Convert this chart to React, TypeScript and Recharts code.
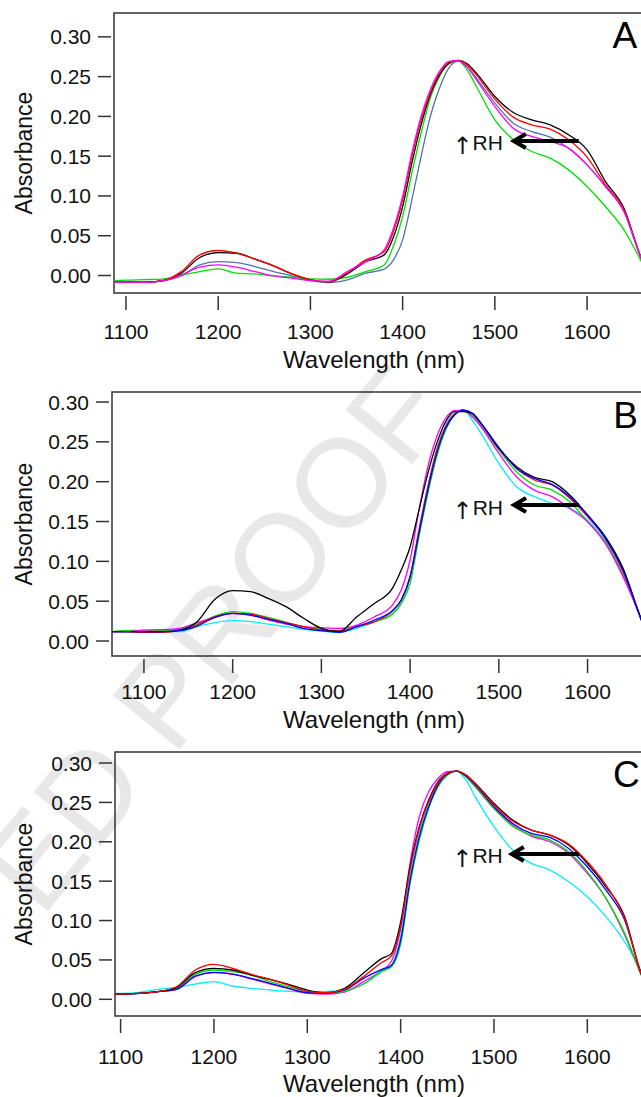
import {
  LineChart,
  Line,
  XAxis,
  YAxis,
  ReferenceArea,
  ReferenceLine,
  ReferenceDot,
  Label,
} from "recharts";

// ---- data ----
const wavelengthA = [1087, 1100, 1120, 1140, 1160, 1180, 1200, 1220, 1240, 1260, 1280, 1300, 1320, 1340, 1360, 1380, 1390, 1400, 1410, 1420, 1430, 1440, 1450, 1460, 1470, 1480, 1500, 1520, 1540, 1560, 1580, 1600, 1620, 1640, 1658, 1665];
const aBlack = [-0.0085, -0.0085, -0.0085, -0.0064, 0.0029, 0.0226, 0.0288, 0.028, 0.0205, 0.0121, 0.002, -0.0055, -0.008, 0.002, 0.0175, 0.0259, 0.048, 0.0867, 0.1412, 0.1894, 0.2272, 0.2523, 0.2662, 0.2704, 0.2662, 0.2544, 0.2251, 0.2049, 0.1957, 0.1894, 0.1769, 0.158, 0.1181, 0.0846, 0.024, 0.006];
const aRed = [-0.0085, -0.0085, -0.0085, -0.0064, 0.0049, 0.0259, 0.0314, 0.028, 0.0205, 0.0121, 0.002, -0.0055, -0.008, 0.0037, 0.0196, 0.0301, 0.055, 0.0951, 0.1496, 0.1957, 0.2301, 0.2544, 0.2678, 0.2704, 0.2649, 0.2523, 0.2217, 0.1991, 0.1894, 0.184, 0.1706, 0.1489, 0.114, 0.0825, 0.024, 0.006];
const aBlue = [-0.0085, -0.0085, -0.0085, -0.0066, -0.0005, 0.0133, 0.0175, 0.0163, 0.0112, 0.0049, -0.0005, -0.0064, -0.0089, -0.0055, 0.0029, 0.0079, 0.0196, 0.0448, 0.0951, 0.1496, 0.1999, 0.2356, 0.2607, 0.2695, 0.2628, 0.2481, 0.2167, 0.1915, 0.181, 0.1739, 0.1601, 0.1391, 0.1119, 0.0804, 0.024, 0.006];
const aMagenta = [-0.0085, -0.0085, -0.0085, -0.0068, 0.0008, 0.0104, 0.0133, 0.0104, 0.0049, -0.0005, -0.0034, -0.0064, -0.0072, 0.0049, 0.0175, 0.0322, 0.059, 0.0993, 0.1538, 0.1999, 0.2335, 0.2565, 0.2691, 0.27, 0.262, 0.246, 0.2125, 0.1852, 0.1748, 0.1685, 0.1601, 0.1391, 0.1119, 0.0804, 0.024, 0.006];
const aGreen = [-0.0065, -0.0058, -0.0052, -0.0045, 0.0005, 0.0049, 0.0083, 0.0029, 0.002, -0.0005, -0.0022, -0.0043, -0.0047, -0.0022, 0.0049, 0.0133, 0.037, 0.0741, 0.1286, 0.179, 0.223, 0.2502, 0.267, 0.27, 0.2586, 0.2376, 0.1957, 0.1706, 0.1559, 0.1475, 0.1328, 0.1119, 0.0867, 0.0574, 0.0196, 0.004];

const wavelengthB = [1064, 1080, 1100, 1120, 1140, 1160, 1180, 1200, 1220, 1240, 1260, 1280, 1300, 1320, 1340, 1360, 1380, 1390, 1400, 1410, 1420, 1430, 1440, 1450, 1460, 1470, 1480, 1500, 1520, 1540, 1560, 1580, 1600, 1620, 1640, 1660, 1667];
const bBlack = [0.0117, 0.0117, 0.0117, 0.0117, 0.0138, 0.0243, 0.0523, 0.0632, 0.0619, 0.0536, 0.0431, 0.0285, 0.0159, 0.0117, 0.0305, 0.0473, 0.066, 0.0891, 0.1184, 0.1644, 0.2105, 0.2481, 0.2753, 0.2879, 0.2879, 0.2858, 0.2732, 0.2418, 0.2188, 0.2054, 0.2, 0.1833, 0.1582, 0.131, 0.0912, 0.0285, 0.008];
const bRed = [0.0117, 0.0117, 0.0109, 0.0109, 0.013, 0.0201, 0.0305, 0.0347, 0.0339, 0.0285, 0.023, 0.018, 0.0138, 0.0126, 0.018, 0.0243, 0.0375, 0.0515, 0.0807, 0.1393, 0.1937, 0.2397, 0.269, 0.2849, 0.2899, 0.2858, 0.2732, 0.2418, 0.2167, 0.2021, 0.1958, 0.1791, 0.1561, 0.1289, 0.087, 0.0285, 0.008];
const bBlue = [0.0117, 0.0117, 0.0117, 0.0117, 0.013, 0.0188, 0.0297, 0.0347, 0.0326, 0.0272, 0.0222, 0.0159, 0.013, 0.0109, 0.018, 0.0264, 0.038, 0.0515, 0.0807, 0.1351, 0.1895, 0.2356, 0.2669, 0.2837, 0.2899, 0.2858, 0.2732, 0.2431, 0.2167, 0.2042, 0.1966, 0.1812, 0.1582, 0.1289, 0.0891, 0.0285, 0.008];
const bGreen = [0.0117, 0.0134, 0.0134, 0.0134, 0.0146, 0.0213, 0.0314, 0.0368, 0.0347, 0.0297, 0.0238, 0.018, 0.0146, 0.013, 0.0188, 0.0243, 0.034, 0.0473, 0.0724, 0.131, 0.1853, 0.2314, 0.2648, 0.2837, 0.2899, 0.2837, 0.2711, 0.2397, 0.2125, 0.1958, 0.1895, 0.1749, 0.1498, 0.1247, 0.0828, 0.0285, 0.008];
const bMagenta = [0.0117, 0.0117, 0.0138, 0.0142, 0.0159, 0.023, 0.0297, 0.0347, 0.0326, 0.0264, 0.0213, 0.018, 0.0167, 0.0159, 0.0201, 0.0305, 0.045, 0.064, 0.1017, 0.1644, 0.2188, 0.2565, 0.2795, 0.2891, 0.2899, 0.2816, 0.269, 0.2356, 0.2063, 0.1895, 0.1812, 0.1665, 0.1498, 0.1226, 0.0807, 0.0285, 0.008];
const bCyan = [0.0117, 0.0117, 0.0117, 0.0117, 0.0117, 0.018, 0.023, 0.0255, 0.0243, 0.0213, 0.018, 0.0146, 0.0126, 0.0109, 0.0159, 0.0243, 0.034, 0.0473, 0.0807, 0.1393, 0.1937, 0.2397, 0.2711, 0.2858, 0.2899, 0.2774, 0.2607, 0.223, 0.1937, 0.1812, 0.1728, 0.1665, 0.1519, 0.1247, 0.0828, 0.0285, 0.008];

const wavelengthC = [1094, 1100, 1120, 1140, 1160, 1180, 1200, 1220, 1240, 1260, 1280, 1300, 1320, 1340, 1360, 1380, 1390, 1400, 1410, 1420, 1430, 1440, 1450, 1460, 1470, 1480, 1500, 1520, 1540, 1560, 1580, 1600, 1620, 1640, 1657, 1665];
const cBlack = [0.0067, 0.0067, 0.0076, 0.0097, 0.0152, 0.0338, 0.0393, 0.0372, 0.0308, 0.0253, 0.019, 0.0118, 0.0084, 0.0139, 0.033, 0.052, 0.058, 0.098, 0.168, 0.2191, 0.2529, 0.2762, 0.2868, 0.2897, 0.2846, 0.2741, 0.2487, 0.2275, 0.2148, 0.2085, 0.1958, 0.1725, 0.1429, 0.1049, 0.035, 0.012];
const cRed = [0.0067, 0.0067, 0.0076, 0.0097, 0.016, 0.0372, 0.0444, 0.0393, 0.0317, 0.0253, 0.0181, 0.0101, 0.0084, 0.0127, 0.0287, 0.047, 0.055, 0.092, 0.164, 0.217, 0.2508, 0.2749, 0.2868, 0.2897, 0.2846, 0.2732, 0.2466, 0.2263, 0.2148, 0.2085, 0.1971, 0.1747, 0.1451, 0.1028, 0.035, 0.012];
const cBlue = [0.0067, 0.0067, 0.0076, 0.0097, 0.0127, 0.0296, 0.0342, 0.0321, 0.0266, 0.0203, 0.0139, 0.0084, 0.0076, 0.0118, 0.0266, 0.038, 0.043, 0.075, 0.15, 0.2064, 0.2445, 0.272, 0.2859, 0.2897, 0.2834, 0.272, 0.2445, 0.2233, 0.2106, 0.2055, 0.1916, 0.1683, 0.1387, 0.1006, 0.035, 0.012];
const cGreen = [0.0067, 0.0067, 0.0076, 0.0097, 0.0139, 0.0317, 0.0372, 0.0351, 0.0308, 0.0224, 0.016, 0.0097, 0.0076, 0.0101, 0.0194, 0.036, 0.041, 0.07, 0.146, 0.2022, 0.2423, 0.2698, 0.2846, 0.2897, 0.2825, 0.2698, 0.2423, 0.2199, 0.2085, 0.2022, 0.1873, 0.162, 0.1281, 0.0837, 0.033, 0.011];
const cMagenta = [0.0067, 0.0067, 0.0076, 0.0097, 0.0127, 0.0287, 0.0338, 0.0321, 0.0258, 0.0197, 0.0135, 0.0076, 0.0067, 0.0092, 0.0224, 0.037, 0.048, 0.09, 0.172, 0.2318, 0.2635, 0.2804, 0.2889, 0.2897, 0.2825, 0.2698, 0.2423, 0.2212, 0.2072, 0.2, 0.1852, 0.1599, 0.1281, 0.0816, 0.033, 0.011];
const cCyan = [0.0076, 0.0076, 0.0088, 0.0127, 0.0152, 0.0194, 0.0224, 0.0169, 0.0139, 0.0118, 0.0101, 0.0093, 0.0101, 0.011, 0.0194, 0.035, 0.043, 0.08, 0.158, 0.2127, 0.2487, 0.2741, 0.2868, 0.2897, 0.2783, 0.2571, 0.2191, 0.1895, 0.1725, 0.1641, 0.1493, 0.1302, 0.1049, 0.0731, 0.036, 0.012];

const xTicks = [1100, 1200, 1300, 1400, 1500, 1600];
const yTicks = [0, 0.05, 0.1, 0.15, 0.2, 0.25, 0.3];

const FONT = "'Liberation Sans', Arial, Helvetica, sans-serif";
const AXIS = "#333";

type Series = { key: string; color: string; values: number[] };

function buildRows(wl: number[], series: Series[]) {
  return wl.map((w, i) => {
    const row: Record<string, number> = { w };
    series.forEach((s) => (row[s.key] = s.values[i]));
    return row;
  });
}

const panels = [
  {
    letter: "A",
    top: 0,
    plotLeft: 114,
    plotRight: 647,
    plotHeight: 280,
    xDomain: [1087, 1665],
    yDomain: [-0.022, 0.33],
    tickDy: 38.7,
    titleDy: 67,
    letterAt: { x: 1641, y: 0.2863 },
    rhAt: { x: 1508.7, y: 0.158 },
    arrow: { from: 1591, to: 1519.5, y: 0.1692 },
    wl: wavelengthA,
    series: [
      { key: "blue", color: "#5073a8", values: aBlue },
      { key: "green", color: "#00e000", values: aGreen },
      { key: "black", color: "#000000", values: aBlack },
      { key: "red", color: "#ff0000", values: aRed },
      { key: "magenta", color: "#ff00ff", values: aMagenta },
    ],
  },
  {
    letter: "B",
    top: 379,
    plotLeft: 112,
    plotRight: 647,
    plotHeight: 264,
    xDomain: [1064, 1667],
    yDomain: [-0.0188, 0.3126],
    tickDy: 35.7,
    titleDy: 64,
    letterAt: { x: 1643, y: 0.267 },
    rhAt: { x: 1504.7, y: 0.158 },
    arrow: { from: 1590.3, to: 1516, y: 0.1707 },
    wl: wavelengthB,
    series: [
      { key: "cyan", color: "#00eeff", values: bCyan },
      { key: "green", color: "#00e000", values: bGreen },
      { key: "magenta", color: "#ff00ff", values: bMagenta },
      { key: "red", color: "#ff0000", values: bRed },
      { key: "black", color: "#000000", values: bBlack },
      { key: "blue", color: "#0000ff", values: bBlue },
    ],
  },
  {
    letter: "C",
    top: 739,
    plotLeft: 115,
    plotRight: 648,
    plotHeight: 264,
    xDomain: [1094, 1665],
    yDomain: [-0.0212, 0.314],
    tickDy: 40.5,
    titleDy: 68,
    letterAt: { x: 1641.8, y: 0.269 },
    rhAt: { x: 1509.4, y: 0.173 },
    arrow: { from: 1591, to: 1518, y: 0.1844 },
    wl: wavelengthC,
    series: [
      { key: "cyan", color: "#00eeff", values: cCyan },
      { key: "magenta", color: "#ff00ff", values: cMagenta },
      { key: "green", color: "#00e000", values: cGreen },
      { key: "blue", color: "#0000ff", values: cBlue },
      { key: "black", color: "#000000", values: cBlack },
      { key: "red", color: "#ff0000", values: cRed },
    ],
  },
];

const CHART_W = 660;
const MARGIN_TOP = 13;
const XAXIS_H = 90;

// eslint-disable-next-line @typescript-eslint/no-explicit-any
function YTick(props: any) {
  const { x, y, payload } = props;
  return (
    <g>
      <line x1={x - 16} x2={x - 3} y1={y} y2={y} stroke={AXIS} strokeWidth={1.5} />
      <text x={x - 23} y={y + 7.5} textAnchor="end" fontSize={21} fontFamily={FONT} fill="#111">
        {Number(payload.value).toFixed(2)}
      </text>
    </g>
  );
}

// eslint-disable-next-line @typescript-eslint/no-explicit-any
function XTick(props: any) {
  const { x, y, payload, labelDy } = props;
  return (
    <g>
      <line x1={x} x2={x} y1={y + 3} y2={y + 17} stroke={AXIS} strokeWidth={1.5} />
      <text x={x} y={y + labelDy + 7.5} textAnchor="middle" fontSize={21} fontFamily={FONT} fill="#111">
        {payload.value}
      </text>
    </g>
  );
}

// eslint-disable-next-line @typescript-eslint/no-explicit-any
function ArrowShape(props: any) {
  const { x1, y1, x2, y2 } = props;
  return (
    <g>
      <line x1={x1} y1={y1} x2={x2 + 4} y2={y2} stroke="#000" strokeWidth={4} />
      <polyline
        points={`${x2 + 13},${y2 - 7} ${x2 + 1},${y2} ${x2 + 13},${y2 + 7}`}
        fill="none"
        stroke="#000"
        strokeWidth={4}
      />
    </g>
  );
}

// eslint-disable-next-line @typescript-eslint/no-explicit-any
function Panel({ p }: { p: any }) {
  const rows = buildRows(p.wl, p.series);
  const height = MARGIN_TOP + p.plotHeight + XAXIS_H;
  const midY = MARGIN_TOP + p.plotHeight / 2;
  const bottomY = MARGIN_TOP + p.plotHeight;
  return (
    <LineChart
      width={CHART_W}
      height={height}
      data={rows}
      margin={{ top: MARGIN_TOP, right: CHART_W - p.plotRight, bottom: 0, left: 0 }}
    >
      <XAxis
        dataKey="w"
        type="number"
        domain={p.xDomain}
        allowDataOverflow
        ticks={xTicks}
        interval={0}
        height={XAXIS_H}
        axisLine={false}
        tickLine={false}
        tickSize={0}
        tickMargin={0}
        tick={(tp: object) => <XTick {...tp} labelDy={p.tickDy} />}
      >
        <Label
          content={() => (
            <text
              x={374}
              y={bottomY + p.titleDy + 8}
              textAnchor="middle"
              fontSize={24}
              fontFamily={FONT}
              fill="#111"
            >
              Wavelength (nm)
            </text>
          )}
        />
      </XAxis>
      <YAxis
        type="number"
        domain={p.yDomain}
        allowDataOverflow
        ticks={yTicks}
        interval={0}
        width={p.plotLeft}
        axisLine={false}
        tickLine={false}
        tickSize={0}
        tickMargin={0}
        tick={<YTick />}
      >
        <Label
          content={() => (
            <text
              x={32}
              y={midY}
              transform={`rotate(-90 32 ${midY})`}
              textAnchor="middle"
              fontSize={23}
              fontFamily={FONT}
              fill="#111"
            >
              Absorbance
            </text>
          )}
        />
      </YAxis>
      {p.series.map((s: Series) => (
        <Line
          key={s.key}
          type="monotone"
          dataKey={s.key}
          stroke={s.color}
          strokeWidth={1.3}
          dot={false}
          activeDot={false}
          isAnimationActive={false}
        />
      ))}
      <ReferenceArea
        x1={p.xDomain[0]}
        x2={p.xDomain[1]}
        y1={p.yDomain[0]}
        y2={p.yDomain[1]}
        fill="none"
        fillOpacity={0}
        stroke={AXIS}
        strokeWidth={1.5}
        ifOverflow="visible"
      />
      <ReferenceLine
        segment={[
          { x: p.arrow.from, y: p.arrow.y },
          { x: p.arrow.to, y: p.arrow.y },
        ]}
        ifOverflow="visible"
        shape={<ArrowShape />}
      />
      <ReferenceDot
        x={p.rhAt.x}
        y={p.rhAt.y}
        r={0}
        ifOverflow="visible"
        // eslint-disable-next-line @typescript-eslint/no-explicit-any
        shape={(sp: any) => (
          <text x={sp.cx} y={sp.cy} textAnchor="end" fontSize={21} fontFamily={FONT} fill="#111">
            <tspan fontFamily="'DejaVu Sans'" fontSize={24} dy={4}>
              ↑
            </tspan>
            <tspan dy={-4}>RH</tspan>
          </text>
        )}
      />
      <ReferenceDot
        x={p.letterAt.x}
        y={p.letterAt.y}
        r={0}
        ifOverflow="visible"
        // eslint-disable-next-line @typescript-eslint/no-explicit-any
        shape={(sp: any) => (
          <text x={sp.cx} y={sp.cy} textAnchor="middle" fontSize={37} fontFamily={FONT} fill="#000">
            {p.letter}
          </text>
        )}
      />
    </LineChart>
  );
}

export default function App() {
  return (
    <div
      style={{
        position: "absolute",
        left: 0,
        top: 0,
        width: 641,
        height: 1097,
        overflow: "hidden",
        background: "#fff",
      }}
    >
      {/* watermark, only the part that shows on the page */}
      <svg width={641} height={1097} style={{ position: "absolute", left: 0, top: 0 }}>
        <text
          x={454}
          y={413}
          textAnchor="end"
          fontSize={125}
          fontFamily={FONT}
          fill="#e8e8e8"
          transform="rotate(-50.8 454 413)"
        >
          ED PROOF
        </text>
      </svg>
      {panels.map((p) => (
        <div key={p.letter} style={{ position: "absolute", left: 0, top: p.top }}>
          <Panel p={p} />
        </div>
      ))}
    </div>
  );
}
